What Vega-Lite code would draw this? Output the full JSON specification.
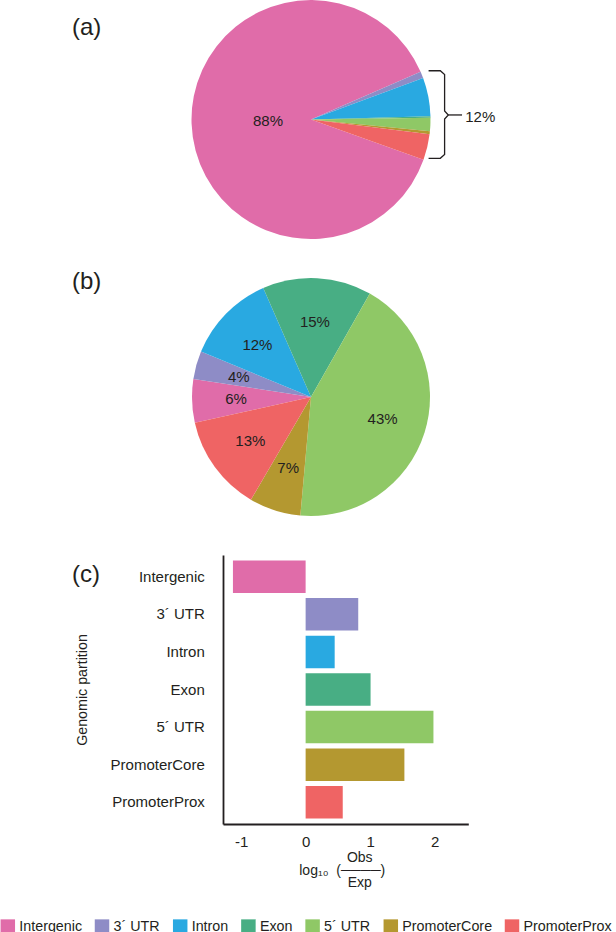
{
  "$schema": "https://vega.github.io/schema/vega-lite/v6.json",
  "padding": 0,
  "background": "white",
  "config": {
    "font": "Liberation Sans",
    "view": {"stroke": null},
    "title": {"fontSize": 24, "fontWeight": "normal", "color": "#231f20", "anchor": "start", "frame": "group", "baseline": "alphabetic", "offset": 0},
    "legend": {"labelFont": "Liberation Sans"}
  },
  "datasets": {
    "pieA": [
      {"part": "Intergenic", "share": 0.88, "rank": 1},
      {"part": "3´ UTR", "share": 0.009, "rank": 2},
      {"part": "Intron", "share": 0.052, "rank": 3},
      {"part": "Exon", "share": 0.002, "rank": 4},
      {"part": "5´ UTR", "share": 0.018, "rank": 5},
      {"part": "PromoterCore", "share": 0.004, "rank": 6},
      {"part": "PromoterProx", "share": 0.035, "rank": 7}
    ],
    "pieB": [
      {"part": "Intergenic", "share": 0.059, "rank": 1},
      {"part": "3´ UTR", "share": 0.038, "rank": 2},
      {"part": "Intron", "share": 0.122, "rank": 3},
      {"part": "Exon", "share": 0.148, "rank": 4},
      {"part": "5´ UTR", "share": 0.432, "rank": 5},
      {"part": "PromoterCore", "share": 0.07, "rank": 6},
      {"part": "PromoterProx", "share": 0.131, "rank": 7}
    ],
    "bars": [
      {"part": "Intergenic", "logratio": -1.126},
      {"part": "3´ UTR", "logratio": 0.815},
      {"part": "Intron", "logratio": 0.45},
      {"part": "Exon", "logratio": 1.006},
      {"part": "5´ UTR", "logratio": 1.98},
      {"part": "PromoterCore", "logratio": 1.53},
      {"part": "PromoterProx", "logratio": 0.575}
    ],
    "bracket": [
      {"seg": "arm", "k": 1, "bx": 0.984, "by": 0.408},
      {"seg": "arm", "k": 2, "bx": 1.082, "by": 0.408},
      {"seg": "arm", "k": 3, "bx": 1.118, "by": 0.377},
      {"seg": "arm", "k": 4, "bx": 1.118, "by": 0.071},
      {"seg": "arm", "k": 5, "bx": 1.149, "by": 0.038},
      {"seg": "arm", "k": 6, "bx": 1.118, "by": 0.004},
      {"seg": "arm", "k": 7, "bx": 1.118, "by": -0.293},
      {"seg": "arm", "k": 8, "bx": 1.082, "by": -0.325},
      {"seg": "arm", "k": 9, "bx": 0.984, "by": -0.325},
      {"seg": "tick", "k": 1, "bx": 1.149, "by": 0.038},
      {"seg": "tick", "k": 2, "bx": 1.264, "by": 0.038}
    ],
    "bracketLabel": [
      {"bx": 1.291, "by": 0.023, "label": "12%"}
    ]
  },
  "bounds": "flush",
  "spacing": 39,
  "resolve": {"scale": {"x": "independent", "y": "independent", "theta": "independent", "color": "shared"}},
  "vconcat": [
    {
      "title": {"text": "(a)", "dx": -151, "dy": 44},
      "width": 176,
      "height": 239,
      "layer": [
        {
          "data": {"name": "pieA"},
          "mark": {"type": "arc", "outerRadius": 119.5},
          "encoding": {
            "theta": {"field": "share", "type": "quantitative", "stack": true, "scale": {"range": [1.9146, 8.1978]}},
            "order": {"field": "rank", "type": "quantitative"},
            "color": {
              "field": "part", "type": "nominal",
              "scale": {"domain": ["Intergenic", "3´ UTR", "Intron", "Exon", "5´ UTR", "PromoterCore", "PromoterProx"],
                        "range": ["#E06CA9", "#8E8CC6", "#29A9E1", "#48AE84", "#8FC866", "#B49830", "#EF6464"]},
              "legend": {"orient": "none", "legendX": -222.7, "legendY": 919, "direction": "horizontal", "title": null,
                         "symbolType": "square", "symbolSize": 210, "symbolStrokeWidth": 0, "labelFontSize": 14.3,
                         "labelOffset": 4, "columnPadding": 12.2, "labelColor": "#231f20"}
            }
          }
        },
        {
          "data": {"name": "pieA"},
          "mark": {"type": "text", "radius": 43, "fontSize": 15, "color": "#231f20"},
          "encoding": {
            "theta": {"field": "share", "type": "quantitative", "stack": true},
            "order": {"field": "rank", "type": "quantitative"},
            "detail": {"field": "part", "type": "nominal"},
            "text": {"field": "share", "type": "quantitative", "format": ".0%"},
            "opacity": {"condition": {"test": "datum.part === 'Intergenic'", "value": 1}, "value": 0}
          }
        },
        {
          "data": {"name": "bracket"},
          "mark": {"type": "line", "stroke": "#231f20", "strokeWidth": 1.3},
          "encoding": {
            "x": {"field": "bx", "type": "quantitative", "scale": {"domain": [-0.7364, 0.7364], "nice": false, "zero": false}, "axis": null},
            "y": {"field": "by", "type": "quantitative", "scale": {"domain": [-1, 1], "nice": false, "zero": false}, "axis": null},
            "detail": {"field": "seg", "type": "nominal"},
            "order": {"field": "k", "type": "quantitative"}
          }
        },
        {
          "data": {"name": "bracketLabel"},
          "mark": {"type": "text", "align": "left", "baseline": "middle", "fontSize": 15, "color": "#231f20"},
          "encoding": {
            "x": {"field": "bx", "type": "quantitative", "scale": {"domain": [-0.7364, 0.7364], "nice": false, "zero": false}, "axis": null},
            "y": {"field": "by", "type": "quantitative", "scale": {"domain": [-1, 1], "nice": false, "zero": false}, "axis": null},
            "text": {"field": "label", "type": "nominal"}
          }
        }
      ]
    },
    {
      "title": {"text": "(b)", "dx": -151, "dy": 19.5},
      "width": 176,
      "height": 238,
      "data": {"name": "pieB"},
      "layer": [
        {
          "mark": {"type": "arc", "outerRadius": 119},
          "encoding": {
            "theta": {"field": "share", "type": "quantitative", "stack": true, "scale": {"range": [4.4942, 10.7774]}},
            "order": {"field": "rank", "type": "quantitative"},
            "color": {
              "field": "part", "type": "nominal",
              "scale": {"domain": ["Intergenic", "3´ UTR", "Intron", "Exon", "5´ UTR", "PromoterCore", "PromoterProx"],
                        "range": ["#E06CA9", "#8E8CC6", "#29A9E1", "#48AE84", "#8FC866", "#B49830", "#EF6464"]},
              "legend": {"orient": "none", "legendX": -222.7, "legendY": 919, "direction": "horizontal", "title": null,
                         "symbolType": "square", "symbolSize": 210, "symbolStrokeWidth": 0, "labelFontSize": 14.3,
                         "labelOffset": 4, "columnPadding": 12.2, "labelColor": "#231f20"}
            }
          }
        },
        {
          "mark": {"type": "text", "radius": 75, "fontSize": 15, "color": "#231f20"},
          "encoding": {
            "theta": {"field": "share", "type": "quantitative", "stack": true},
            "order": {"field": "rank", "type": "quantitative"},
            "detail": {"field": "part", "type": "nominal"},
            "text": {"field": "share", "type": "quantitative", "format": ".0%"}
          }
        }
      ]
    },
    {
      "title": {"text": "(c)", "dx": -151, "dy": 36},
      "width": 245.3,
      "height": 269,
      "data": {"name": "bars"},
      "mark": {"type": "bar"},
      "encoding": {
        "y": {
          "field": "part", "type": "nominal",
          "sort": ["Intergenic", "3´ UTR", "Intron", "Exon", "5´ UTR", "PromoterCore", "PromoterProx"],
          "scale": {"paddingInner": 0.136, "paddingOuter": 0.145},
          "axis": {"title": "Genomic partition", "titleFontSize": 14.25, "titleFontWeight": "normal", "titleColor": "#231f20",
                   "titlePadding": 21, "labelFontSize": 15, "labelColor": "#231f20", "labelPadding": 18.7,
                   "ticks": false, "tickSize": 0, "domainColor": "#231f20", "domainWidth": 1.8}
        },
        "x": {
          "field": "logratio", "type": "quantitative",
          "scale": {"domain": [-1.28, 2.52], "nice": false, "zero": false},
          "axis": {"values": [-1, 0, 1, 2], "ticks": false, "tickSize": 0, "grid": false, "labelFontSize": 15,
                   "labelColor": "#231f20", "labelPadding": 10.5, "domainColor": "#231f20", "domainWidth": 1.8,
                   "labelExpr": "replace(datum.label, '−', '-')",
                   "title": ["\u200b\u00a0\u00a0\u00a0\u00a0\u00a0\u00a0\u00a0Obs", "log₁₀\u00a0\u00a0(────)\u00a0\u00a0\u200b", "\u200b\u00a0\u00a0\u00a0\u00a0\u00a0\u00a0\u00a0Exp"],
                   "titleFontSize": 14, "titleFontWeight": "normal", "titleColor": "#231f20", "titleLineHeight": 12.5, "titlePadding": 1}
        },
        "color": {
          "field": "part", "type": "nominal",
          "scale": {"domain": ["Intergenic", "3´ UTR", "Intron", "Exon", "5´ UTR", "PromoterCore", "PromoterProx"],
                    "range": ["#E06CA9", "#8E8CC6", "#29A9E1", "#48AE84", "#8FC866", "#B49830", "#EF6464"]},
          "legend": {"orient": "none", "legendX": -222.7, "legendY": 919, "direction": "horizontal", "title": null,
                     "symbolType": "square", "symbolSize": 210, "symbolStrokeWidth": 0, "labelFontSize": 14.3,
                     "labelOffset": 4, "columnPadding": 12.2, "labelColor": "#231f20"}
        }
      }
    }
  ]
}
